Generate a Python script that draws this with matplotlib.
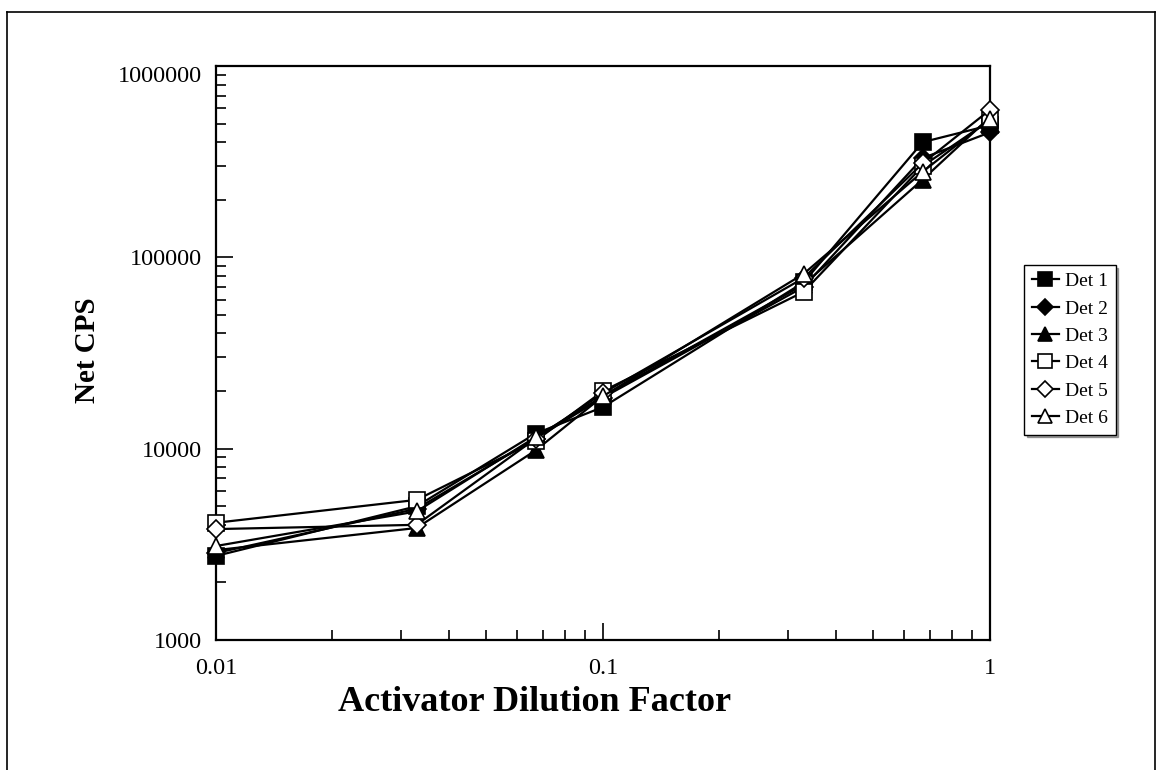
import matplotlib
matplotlib.use("Agg")
import matplotlib.pyplot as plt
from matplotlib.lines import Line2D
from matplotlib.ticker import LogLocator, NullFormatter, FixedLocator, FixedFormatter

plt.rcParams['font.family'] = ['Liberation Serif', 'DejaVu Serif']

# dilution factors
dilution = [0.01, 0.033, 0.067, 0.1, 0.33, 0.67, 1.0]

# net counts per second for each detector
det1 = [2750, 5000, 12000, 16500, 74000, 400000, 490000]
det2 = [2850, 4850, 11300, 18500, 70000, 330000, 450000]
det3 = [2950, 3850, 9800, 18800, 72000, 255000, 540000]
det4 = [4100, 5400, 11000, 20000, 66000, 300000, 520000]
det5 = [3800, 4000, 11300, 19500, 78000, 310000, 590000]
det6 = [3100, 4700, 11500, 18800, 82000, 280000, 530000]

series = [det1, det2, det3, det4, det5, det6]
names = ['Det 1', 'Det 2', 'Det 3', 'Det 4', 'Det 5', 'Det 6']
markers = ['s', 'D', '^', 's', 'D', '^']
filled = [True, True, True, False, False, False]

xticks = [0.01, 0.1, 1]
xticklabels = ['0.01', '0.1', '1']
yticks = [1000, 10000, 100000, 1000000]
yticklabels = ['1000', '10000', '100000', '1000000']

fig = plt.figure(figsize=(11.61, 7.70), dpi=100)
ax = fig.add_axes([0.186, 0.1688, 0.6667, 0.7455])

sizes = {'s': 11, 'D': 9, '^': 11.5}
for vals, name, m, f in zip(series, names, markers, filled):
    ax.plot(dilution, vals, color='black', lw=1.6, marker=m, markersize=sizes[m],
            markerfacecolor='black' if f else 'white', markeredgecolor='black',
            markeredgewidth=1.2, label=name, clip_on=False, zorder=3)

ax.set_xscale('log')
ax.set_yscale('log')
ax.set_xlim(0.01, 1)
ax.set_ylim(1000, 1000000)

ax.xaxis.set_major_locator(FixedLocator(xticks))
ax.xaxis.set_major_formatter(FixedFormatter(xticklabels))
ax.xaxis.set_minor_locator(LogLocator(base=10, subs=range(2, 10)))
ax.xaxis.set_minor_formatter(NullFormatter())
ax.yaxis.set_major_locator(FixedLocator(yticks))
ax.yaxis.set_major_formatter(FixedFormatter(yticklabels))
ax.yaxis.set_minor_locator(LogLocator(base=10, subs=range(2, 10)))
ax.yaxis.set_minor_formatter(NullFormatter())

ax.tick_params(which='both', direction='in', top=False, right=False, width=1.2)
ax.tick_params(which='major', length=12, labelsize=17.5)
ax.tick_params(axis='x', which='major', pad=13)
ax.tick_params(axis='y', which='major', pad=10)
ax.tick_params(which='minor', length=7.5)
for sp in ax.spines.values():
    sp.set_linewidth(1.6)

# top label sits just under the top edge, like the original
fig.canvas.draw()
ax.get_yticklabels()[-1].set_va('top')

ax.set_xlabel('Activator Dilution Factor', fontsize=26, fontweight='bold')
ax.set_ylabel('Net CPS', fontsize=21, fontweight='bold')
ax.xaxis.set_label_coords(0.412, -0.08)
ax.yaxis.set_label_coords(-0.148, 0.505)

leg = ax.legend(loc='upper left', bbox_to_anchor=(0.882, 0.656),
                bbox_transform=fig.transFigure, borderaxespad=0,
                fancybox=False, shadow=True, fontsize=14, handlelength=1.4,
                labelspacing=0.5, handletextpad=0.3, borderpad=0.4,
                markerscale=0.9)
leg.get_frame().set_edgecolor('black')
leg.get_frame().set_linewidth(1.0)

# outer frame around the whole figure
fig.add_artist(Line2D([0.006, 0.006], [0.0, 0.984], transform=fig.transFigure, color='black', lw=1.2))
fig.add_artist(Line2D([0.006, 0.995], [0.984, 0.984], transform=fig.transFigure, color='black', lw=1.2))
fig.add_artist(Line2D([0.995, 0.995], [0.0, 0.984], transform=fig.transFigure, color='black', lw=1.2))

fig.savefig('out.png', dpi=100)
